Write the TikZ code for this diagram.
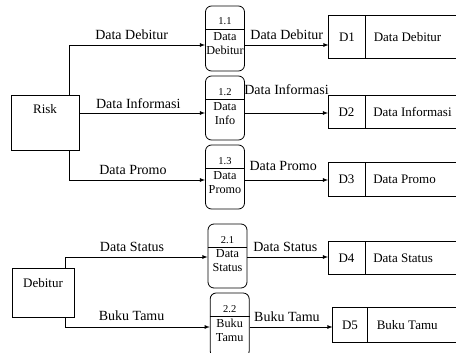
\documentclass[tikz,border=0pt]{standalone}
\usepackage{fontspec}
\setmainfont{Liberation Serif}
\usetikzlibrary{positioning}

\begin{document}
\begin{tikzpicture}[x=1pt, y=-1pt, line width=0.8pt,
    ent/.style={draw, minimum width=68pt, minimum height=55pt},
    proc/.style={draw, rounded corners=6pt, minimum width=39pt, minimum height=64pt},
    pnum/.style={inner sep=0pt, font=\fontsize{10.5}{12}\selectfont},
    pname/.style={inner sep=0pt, align=center, font=\fontsize{12.2}{14}\selectfont},
    sid/.style={inner sep=0pt, minimum width=36pt, font=\fontsize{13}{15}\selectfont},
    stxt/.style={inner sep=0pt, font=\fontsize{13}{15}\selectfont},
    lbl/.style={inner sep=0pt, font=\fontsize{14}{16}\selectfont},
    flow/.style={->, >=latex}]

    \clip (0,0) rectangle (456,353);

    % entities
    \node[ent] (risk) at (45,122.5) {};
    \node[stxt] (risktxt) at ([yshift=-14pt]risk.north) {Risk};
    \node[ent, minimum width=62pt, minimum height=49pt] (deb) at (43,292.5) {};
    \node[stxt] (debtxt) at ([yshift=-15pt]deb.north) {Debitur};

    % processes
    \node[proc, minimum height=65pt] (p11) at (225,38.5) {};
    \draw ([yshift=-24pt]p11.north west) -- ([yshift=-24pt]p11.north east);
    \node[pnum] (n11) at ([yshift=-16pt]p11.north) {1.1};
    \node[pname] (t11) at ([yshift=-38pt]p11.north) {Data\\Debitur};

    \node[proc] (p12) at (225,108) {};
    \draw ([yshift=-23.5pt]p12.north west) -- ([yshift=-23.5pt]p12.north east);
    \node[pnum] (n12) at ([yshift=-16pt]p12.north) {1.2};
    \node[pname] (t12) at ([yshift=-38pt]p12.north) {Data\\Info};

    \node[proc] (p13) at (225,177) {};
    \draw ([yshift=-23.5pt]p13.north west) -- ([yshift=-23.5pt]p13.north east);
    \node[pnum] (n13) at ([yshift=-16pt]p13.north) {1.3};
    \node[pname] (t13) at ([yshift=-38pt]p13.north) {Data\\Promo};

    \node[proc] (p21) at (227.5,256) {};
    \draw ([yshift=-23.5pt]p21.north west) -- ([yshift=-23.5pt]p21.north east);
    \node[pnum] (n21) at ([yshift=-16pt]p21.north) {2.1};
    \node[pname] (t21) at ([yshift=-37pt]p21.north) {Data\\Status};

    \node[proc] (p22) at (229.7,325) {};
    \draw ([yshift=-23.5pt]p22.north west) -- ([yshift=-23.5pt]p22.north east);
    \node[pnum] (n22) at ([yshift=-16pt]p22.north) {2.2};
    \node[pname] (t22) at ([yshift=-38pt]p22.north) {Buku\\Tamu};

    % data stores
    \coordinate (edge) at (460,0);
    \node[sid, minimum height=42pt] (d1) at (347,37) {D1};
    \node[stxt, right=8pt of d1] (s1) {Data Debitur};
    \draw (d1.north west -| edge) -- (d1.north west) -- (d1.south west) -- (d1.south west -| edge);
    \draw (d1.north east) -- (d1.south east);

    \node[sid, minimum height=32pt] (d2) at (346.5,112) {D2};
    \node[stxt, right=8pt of d2] (s2) {Data Informasi};
    \draw (d2.north west -| edge) -- (d2.north west) -- (d2.south west) -- (d2.south west -| edge);
    \draw (d2.north east) -- (d2.south east);

    \node[sid, minimum height=33pt] (d3) at (346.5,179.5) {D3};
    \node[stxt, right=8pt of d3] (s3) {Data Promo};
    \draw (d3.north west -| edge) -- (d3.north west) -- (d3.south west) -- (d3.south west -| edge);
    \draw (d3.north east) -- (d3.south east);

    \node[sid, minimum height=32pt] (d4) at (346.5,258) {D4};
    \node[stxt, right=8pt of d4] (s4) {Data Status};
    \draw (d4.north west -| edge) -- (d4.north west) -- (d4.south west) -- (d4.south west -| edge);
    \draw (d4.north east) -- (d4.south east);

    \node[sid, minimum width=34pt, minimum height=34pt] (d5) at (350,325) {D5};
    \node[stxt, right=9pt of d5] (s5) {Buku Tamu};
    \draw (d5.north west -| edge) -- (d5.north west) -- (d5.south west) -- (d5.south west -| edge);
    \draw (d5.north east) -- (d5.south east);

    % flows
    \coordinate (a1) at (69,45);
    \coordinate (a2) at (79,113);
    \coordinate (a3) at (69,180);
    \coordinate (b1) at (65,257);
    \coordinate (b2) at (65,327);

    \draw[flow] (a1 |- risk.north) -- (a1) -- (a1 -| p11.west) node[lbl, above=5pt, pos=0.46] (l1) {Data Debitur};
    \draw[flow] (a2) -- (a2 -| p12.west) node[lbl, above=4pt, pos=0.47] (l2) {Data Informasi};
    \draw[flow] (a3 |- risk.south) -- (a3) -- (a3 -| p13.west) node[lbl, above=5pt, pos=0.47] (l3) {Data Promo};
    \draw[flow] (b1 |- deb.north) -- (b1) -- (b1 -| p21.west) node[lbl, above=5pt, pos=0.47] (l4) {Data Status};
    \draw[flow] (b2 |- deb.south) -- (b2) -- (b2 -| p22.west) node[lbl, above=6pt, pos=0.46] (l5) {Buku Tamu};

    \draw[flow] (a1 -| p11.east) -- (a1 -| d1.west) node[lbl, above=5pt, midway] (r1) {Data Debitur};
    \draw[flow] (a2 -| p12.east) -- (a2 -| d2.west) node[lbl, above=18pt, midway] (r2) {Data Informasi};
    \draw[flow] (a3 -| p13.east) -- (a3 -| d3.west) node[lbl, above=9pt, pos=0.46] (r3) {Data Promo};
    \draw[flow] (b1 -| p21.east) -- (b1 -| d4.west) node[lbl, above=5pt, pos=0.47] (r4) {Data Status};
    \draw[flow] (b2 -| p22.east) -- (b2 -| d5.west) node[lbl, above=5pt, pos=0.45] (r5) {Buku Tamu};

\end{tikzpicture}
\end{document}
